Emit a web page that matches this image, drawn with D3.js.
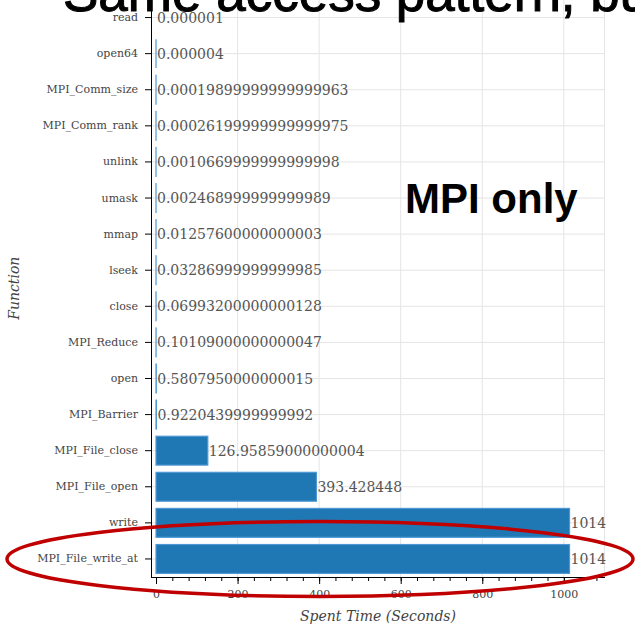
<!DOCTYPE html>
<html>
<head>
<meta charset="utf-8">
<script src="https://cdn.jsdelivr.net/npm/d3@7"></script>
<style>
  html, body { margin: 0; padding: 0; background: #fff; }
  svg { display: block; }
</style>
</head>
<body>
<svg id="chart" width="635" height="626"></svg>
<script>
// Function names, top to bottom
const functions = [
  "read", "open64", "MPI_Comm_size", "MPI_Comm_rank", "unlink", "umask",
  "mmap", "lseek", "close", "MPI_Reduce", "open", "MPI_Barrier",
  "MPI_File_close", "MPI_File_open", "write", "MPI_File_write_at"
];

// Time spent in each function (seconds)
const spentSeconds = [
  0.000001, 0.000004, 0.00019899999999999963, 0.00026199999999999975,
  0.0010669999999999998, 0.002468999999999989, 0.01257600000000003,
  0.03286999999999985, 0.06993200000000128, 0.10109000000000047,
  0.5807950000000015, 0.9220439999999992, 126.95859000000004,
  393.428448, 1014, 1014
];

const xMajorTicks = [0, 200, 400, 600, 800, 1000];
const xMinorTicks = d3.range(0, 1081, 40);

const titleText = "Same access pattern, but";
const noteText = "MPI only";
const xLabel = "Spent Time (Seconds)";
const yLabel = "Function";

const rows = functions.map((f, i) => ({ name: f, value: spentSeconds[i] }));

const svg = d3.select("#chart");
const plot = { left: 151, right: 605, top: -0.5, bottom: 577 };

const x = d3.scaleLinear().domain([-12.3, 1101]).range([plot.left, plot.right]);
const y = d3.scaleBand()
  .domain(functions)
  .range([plot.top, plot.bottom])
  .paddingInner(0.2)
  .paddingOuter(0.1);
const rowCenter = d => y(d) + y.bandwidth() / 2;

const serif = "'DejaVu Serif', serif";
const gridColor = "#e5e5e5";

// grid
const grid = svg.append("g");
grid.selectAll("line.v")
  .data(xMajorTicks.filter(t => t > 0))
  .join("line")
  .attr("x1", d => x(d)).attr("x2", d => x(d))
  .attr("y1", plot.top).attr("y2", plot.bottom)
  .attr("stroke", gridColor).attr("stroke-width", 1);
grid.selectAll("line.h")
  .data(functions)
  .join("line")
  .attr("x1", plot.left).attr("x2", plot.right)
  .attr("y1", d => rowCenter(d)).attr("y2", d => rowCenter(d))
  .attr("stroke", gridColor).attr("stroke-width", 1);
grid.append("line")
  .attr("x1", plot.right - 0.5).attr("x2", plot.right - 0.5)
  .attr("y1", plot.top).attr("y2", plot.bottom)
  .attr("stroke", gridColor).attr("stroke-width", 1);

// bars
svg.append("g").selectAll("rect")
  .data(rows)
  .join("rect")
  .attr("x", x(0))
  .attr("y", d => y(d.name))
  .attr("width", d => Math.max(0, x(d.value) - x(0)))
  .attr("height", y.bandwidth())
  .attr("fill", "#1f77b4")
  .attr("stroke", "#4f97d2")
  .attr("stroke-width", 1.2);

// value labels
svg.append("g").selectAll("text")
  .data(rows)
  .join("text")
  .attr("x", d => x(d.value) + 1)
  .attr("y", d => rowCenter(d.name))
  .attr("dy", "0.36em")
  .attr("font-family", serif)
  .attr("font-size", 14)
  .attr("fill", "#555")
  .text(d => String(d.value));

// x axis
const xAxis = svg.append("g")
  .attr("transform", `translate(0,${plot.bottom})`)
  .call(d3.axisBottom(x).tickValues(xMajorTicks).tickFormat(d3.format("d"))
    .tickSize(7).tickSizeOuter(0).tickPadding(6));
xAxis.select(".domain").attr("d", `M${plot.left},0.5H${plot.right}`).attr("stroke", "#000");
xAxis.selectAll(".tick line").attr("stroke", "#000");
xAxis.selectAll(".tick text")
  .attr("font-family", serif).attr("font-size", 11).attr("fill", "#444");

svg.append("g")
  .attr("transform", `translate(0,${plot.bottom})`)
  .call(d3.axisBottom(x).tickValues(xMinorTicks).tickSize(4).tickSizeOuter(0).tickFormat(""))
  .call(g => g.select(".domain").remove())
  .selectAll(".tick line").attr("stroke", "#000");

// y axis
const yAxis = svg.append("g")
  .attr("transform", `translate(${plot.left},0)`)
  .call(d3.axisLeft(y).tickSize(6).tickSizeOuter(0).tickPadding(7));
yAxis.select(".domain").attr("d", `M0.5,${plot.top}V${plot.bottom + 0.5}`).attr("stroke", "#000");
yAxis.selectAll(".tick line").attr("stroke", "#000");
yAxis.selectAll(".tick text")
  .attr("font-family", serif).attr("font-size", 11).attr("fill", "#444");

// axis titles
svg.append("text")
  .attr("x", (plot.left + plot.right) / 2)
  .attr("y", 621)
  .attr("text-anchor", "middle")
  .attr("font-family", serif).attr("font-style", "italic")
  .attr("font-size", 14).attr("fill", "#444")
  .text(xLabel);

svg.append("text")
  .attr("transform", `translate(19,${(plot.top + plot.bottom) / 2}) rotate(-90)`)
  .attr("text-anchor", "middle")
  .attr("font-family", serif).attr("font-style", "italic")
  .attr("font-size", 14).attr("fill", "#444")
  .text(yLabel);

// annotations
svg.append("text")
  .attr("x", 405).attr("y", 213)
  .attr("font-family", "'Liberation Sans', Arial, sans-serif")
  .attr("font-weight", "bold").attr("font-size", 42)
  .attr("fill", "#000")
  .text(noteText);

svg.append("text")
  .attr("x", 63).attr("y", 11)
  .attr("font-family", "'Liberation Sans', Arial, sans-serif")
  .attr("font-size", 53)
  .attr("fill", "#000")
  .attr("stroke", "#000")
  .attr("stroke-width", 1)
  .text(titleText);

// highlight around the largest write rows
const last = functions[functions.length - 1];
svg.append("ellipse")
  .attr("cx", 320).attr("cy", rowCenter(last))
  .attr("rx", 313).attr("ry", 37.5)
  .attr("fill", "none")
  .attr("stroke", "#c00000")
  .attr("stroke-width", 3.5);
</script>
</body>
</html>
